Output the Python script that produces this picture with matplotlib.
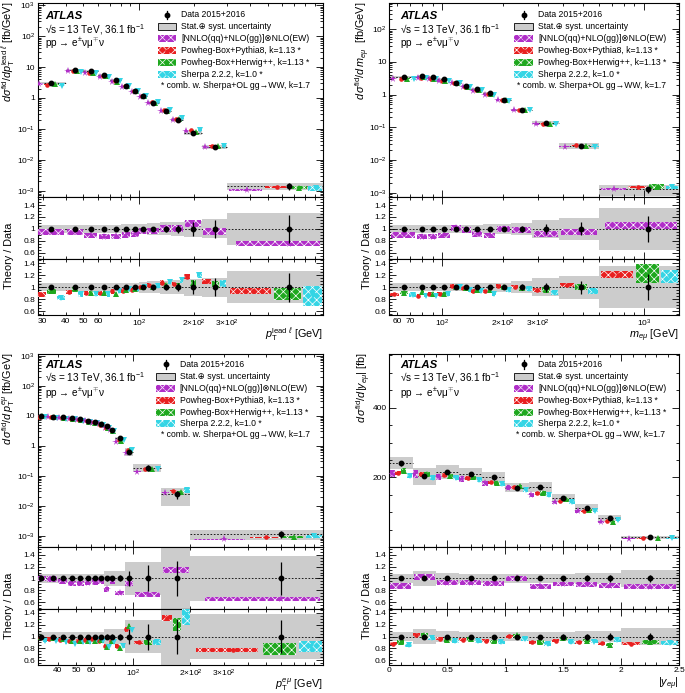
import numpy as np
import matplotlib
matplotlib.use("Agg")
import matplotlib.pyplot as plt
from matplotlib.patches import Rectangle
from matplotlib.ticker import FuncFormatter, NullFormatter, MultipleLocator, LogLocator, FixedLocator

plt.rcParams['font.family'] = ['Liberation Sans', 'DejaVu Sans']
plt.rcParams['mathtext.fontset'] = 'custom'
plt.rcParams['mathtext.rm'] = 'Liberation Sans'
plt.rcParams['mathtext.it'] = 'Liberation Sans:italic'
plt.rcParams['mathtext.bf'] = 'Liberation Sans:bold'
plt.rcParams['hatch.linewidth'] = 0.5

# ---------------- data: p_T lead lepton ----------------
edges1 = [27, 40, 50, 60, 70, 80, 90, 100, 110, 130, 150, 175, 220, 300, 1000]
data1 = [3.0, 7.9, 7.3, 5.5, 3.7, 2.5, 1.7, 1.13, 0.71, 0.37, 0.20, 0.076, 0.026, 1.4e-3]
band1 = [0.07, 0.07, 0.07, 0.07, 0.07, 0.08, 0.08, 0.09, 0.10, 0.11, 0.12, 0.14, 0.16, 0.27]
derr1 = [0.01, 0.01, 0.01, 0.01, 0.015, 0.02, 0.02, 0.03, 0.04, 0.05, 0.07, 0.12, 0.15, 0.24]
nnlo1 = [0.94, 0.945, 0.89, 0.87, 0.875, 0.90, 0.915, 0.96, 0.97, 1.01, 1.0, 1.09, 0.96, 0.75]
nnlo_u1 = [0.05, 0.05, 0.045, 0.045, 0.045, 0.045, 0.045, 0.05, 0.05, 0.055, 0.06, 0.065, 0.055, 0.045]
pyt1 = [0.88, 0.92, 0.90, 0.90, 0.93, 0.945, 0.955, 1.005, 1.04, 1.08, 1.055, 1.18, 1.10, 0.93]
pyt_u1 = [0.035, 0.035, 0.035, 0.035, 0.035, 0.035, 0.035, 0.035, 0.035, 0.035, 0.035, 0.04, 0.04, 0.05]
her1 = [0.93, 0.97, 0.905, 0.905, 0.89, 0.955, 0.97, 1.0, 1.0, 1.04, 1.03, 1.08, 1.05, 0.89]
her_u1 = [0.035, 0.035, 0.035, 0.035, 0.035, 0.035, 0.035, 0.035, 0.035, 0.04, 0.04, 0.05, 0.06, 0.10]
she1 = [0.82, 0.88, 0.89, 0.88, 0.94, 0.97, 0.97, 1.01, 1.03, 1.09, 1.12, 1.20, 1.06, 0.85]
she_u1 = [0.035, 0.035, 0.035, 0.035, 0.035, 0.035, 0.035, 0.035, 0.035, 0.04, 0.045, 0.05, 0.06, 0.17]

# ---------------- data: m_emu ----------------
edges2 = [55, 75, 85, 95, 110, 125, 140, 160, 185, 220, 280, 380, 600, 1500]
data2 = [3.4, 3.8, 3.4, 2.95, 2.2, 1.8, 1.46, 1.12, 0.67, 0.34, 0.136, 0.027, 1.25e-3]
band2 = [0.07, 0.07, 0.07, 0.07, 0.07, 0.07, 0.07, 0.08, 0.08, 0.10, 0.15, 0.19, 0.35]
derr2 = [0.01, 0.01, 0.01, 0.01, 0.01, 0.015, 0.02, 0.02, 0.03, 0.05, 0.08, 0.11, 0.22]
nnlo2 = [0.90, 0.87, 0.87, 0.89, 1.015, 0.98, 0.915, 0.89, 0.995, 0.98, 0.915, 0.945, 1.06]
nnlo_u2 = [0.045, 0.045, 0.045, 0.045, 0.05, 0.05, 0.045, 0.045, 0.05, 0.05, 0.05, 0.055, 0.06]
pyt2 = [0.88, 0.85, 0.885, 0.89, 1.03, 0.98, 0.94, 0.93, 1.03, 1.01, 0.955, 1.04, 1.21]
pyt_u2 = [0.03, 0.03, 0.03, 0.03, 0.03, 0.03, 0.03, 0.03, 0.03, 0.03, 0.03, 0.03, 0.06]
her2 = [0.91, 0.92, 0.89, 0.89, 1.0, 0.98, 0.95, 0.96, 1.0, 0.98, 0.96, 1.01, 1.23]
her_u2 = [0.03, 0.03, 0.03, 0.03, 0.03, 0.03, 0.03, 0.03, 0.03, 0.035, 0.04, 0.05, 0.16]
she2 = [0.87, 0.86, 0.86, 0.89, 1.0, 0.95, 0.93, 0.89, 0.95, 0.97, 0.91, 0.94, 1.18]
she_u2 = [0.03, 0.03, 0.03, 0.03, 0.03, 0.03, 0.03, 0.03, 0.03, 0.035, 0.04, 0.045, 0.11]

# ---------------- data: p_T emu ----------------
edges3 = [30, 35, 40, 45, 50, 55, 60, 65, 70, 75, 80, 90, 100, 140, 200, 1000]
data3 = [9.4, 9.2, 8.9, 8.5, 7.6, 6.9, 6.2, 5.4, 4.6, 3.4, 1.8, 0.63, 0.185, 0.024, 1.15e-3]
band3 = [0.08, 0.08, 0.08, 0.08, 0.08, 0.08, 0.08, 0.08, 0.12, 0.12, 0.12, 0.28, 0.28, 0.6, 0.38]
derr3 = [0.02, 0.02, 0.02, 0.02, 0.02, 0.02, 0.03, 0.03, 0.04, 0.04, 0.05, 0.12, 0.22, 0.3, 0.28]
nnlo3 = [1.0, 0.99, 0.95, 0.92, 0.915, 0.93, 0.94, 0.95, 0.815, 0.95, 0.755, 0.91, 0.73, 1.14, 0.65]
nnlo_u3 = [0.045, 0.045, 0.045, 0.045, 0.045, 0.045, 0.045, 0.045, 0.04, 0.04, 0.035, 0.045, 0.035, 0.055, 0.035]
pyt3 = [0.97, 0.955, 0.945, 0.93, 0.93, 0.945, 0.955, 0.93, 0.845, 0.93, 0.845, 1.12, 0.9, 1.32, 0.775]
pyt_u3 = [0.03, 0.03, 0.03, 0.03, 0.03, 0.03, 0.03, 0.03, 0.03, 0.03, 0.03, 0.035, 0.03, 0.05, 0.035]
her3 = [1.0, 0.97, 0.955, 0.93, 0.92, 0.92, 0.93, 0.945, 0.82, 0.92, 0.805, 1.17, 0.9, 1.2, 0.79]
her_u3 = [0.03, 0.03, 0.03, 0.03, 0.03, 0.03, 0.03, 0.03, 0.03, 0.03, 0.03, 0.04, 0.035, 0.11, 0.10]
she3 = [0.93, 0.93, 0.9, 0.88, 0.9, 0.91, 0.945, 0.92, 0.83, 0.91, 0.845, 1.11, 0.9, 1.36, 0.83]
she_u3 = [0.03, 0.03, 0.03, 0.03, 0.03, 0.03, 0.03, 0.03, 0.03, 0.03, 0.03, 0.04, 0.035, 0.16, 0.09]

# ---------------- data: |y_emu| ----------------
edges4 = [0, 0.2, 0.4, 0.6, 0.8, 1.0, 1.2, 1.4, 1.6, 1.8, 2.0, 2.5]
data4 = [241, 204, 216, 210, 200, 171, 172, 142, 114, 84, 29]
band4 = [0.07, 0.12, 0.09, 0.08, 0.08, 0.08, 0.08, 0.08, 0.10, 0.10, 0.14]
derr4 = [0.03, 0.03, 0.03, 0.03, 0.03, 0.03, 0.03, 0.04, 0.05, 0.06, 0.06]
nnlo4 = [0.875, 1.03, 0.93, 0.93, 0.915, 1.0, 0.87, 0.905, 0.9, 0.875, 0.86]
nnlo_u4 = [0.045, 0.05, 0.045, 0.045, 0.045, 0.045, 0.04, 0.04, 0.04, 0.04, 0.04]
pyt4 = [0.88, 1.03, 0.96, 0.945, 0.93, 1.005, 0.9, 0.93, 0.905, 0.89, 0.88]
pyt_u4 = [0.025, 0.025, 0.025, 0.025, 0.025, 0.025, 0.025, 0.025, 0.025, 0.025, 0.025]
her4 = [0.91, 1.03, 0.945, 0.955, 0.92, 1.02, 0.905, 0.97, 0.93, 0.865, 0.905]
her_u4 = [0.03, 0.03, 0.03, 0.03, 0.03, 0.03, 0.03, 0.03, 0.03, 0.03, 0.03]
she4 = [0.85, 0.97, 0.92, 0.92, 0.9, 0.955, 0.87, 0.91, 0.915, 0.94, 0.89]
she_u4 = [0.03, 0.03, 0.03, 0.03, 0.03, 0.03, 0.03, 0.03, 0.03, 0.03, 0.03]

leg_labels = ['Data 2015+2016', 'Stat.\u2295 syst. uncertainty', '[NNLO(qq)+NLO(gg)]\u2297NLO(EW)',
              'Powheg-Box+Pythia8, k=1.13 *', 'Powheg-Box+Herwig++, k=1.13 *', 'Sherpa 2.2.2, k=1.0 *',
              '* comb. w. Sherpa+OL gg\u2192WW, k=1.7']

PURPLE = '#b02ec8'
RED = '#e82020'
GREEN = '#1fa81f'
CYAN = '#35d5e5'
GREY = '#cccccc'
MS = {'*': 5.5, 'o': 3.3, '^': 4, 'v': 4}
LABEL_FS = 7.8

W, H = 685, 693
fig = plt.figure(figsize=(W / 100, H / 100), dpi=100)


def fx(px):
    return px / W


def fy(py):
    return 1 - py / H


def sub(lo, hi, k, n, frac=0.9):
    w = (hi - lo) / n
    c = lo + w * (k + 0.5)
    return c, c - w * frac / 2, c + w * frac / 2


def hbox(ax, x0, x1, y0, y1, col, z=3, tr=None):
    kw = {} if tr is None else {'transform': tr}
    ax.add_patch(Rectangle((x0, y0), x1 - x0, y1 - y0, facecolor=col, edgecolor='white',
                           hatch='xxxx', lw=0, zorder=z, **kw))


def style(ax):
    ax.tick_params(which='both', direction='in', top=True, right=True, labelsize=6, width=0.6, pad=2)
    ax.tick_params(which='major', length=5)
    ax.tick_params(which='minor', length=2.5)
    for s in ax.spines.values():
        s.set_linewidth(0.8)


def logfmt(v, pos):
    e = int(round(np.log10(v)))
    if e == 0:
        return '1'
    if e == 1:
        return '10'
    return r'$10^{%d}$' % e


def make_xfmt(labels):
    def f(v, pos):
        for key in labels:
            if abs(v / key - 1) < 1e-6:
                return labels[key]
        return ''
    return FuncFormatter(f)


def setx(ax, xlim, log, labels, show):
    if log:
        ax.set_xscale('log')
        ax.xaxis.set_major_locator(LogLocator(base=10, numticks=10))
        ax.xaxis.set_minor_locator(LogLocator(base=10, subs=np.arange(2, 10), numticks=20))
        fmt = make_xfmt(labels)
        if show:
            ax.xaxis.set_major_formatter(fmt)
            ax.xaxis.set_minor_formatter(fmt)
        else:
            ax.xaxis.set_major_formatter(NullFormatter())
            ax.xaxis.set_minor_formatter(NullFormatter())
    else:
        ax.xaxis.set_major_locator(MultipleLocator(0.5))
        ax.xaxis.set_minor_locator(MultipleLocator(0.1))
        if show:
            ax.xaxis.set_major_formatter(FuncFormatter(lambda v, p: '%g' % v))
        else:
            ax.xaxis.set_major_formatter(NullFormatter())
    ax.set_xlim(*xlim)


def draw_main(ax, edges, data, band, derr, models):
    for i in range(len(data)):
        lo, hi = edges[i], edges[i + 1]
        d = data[i]
        ax.add_patch(Rectangle((lo, d * (1 - band[i])), hi - lo, 2 * d * band[i], fc=GREY, ec='none', zorder=1))
        ax.plot([lo, hi], [d, d], color='k', lw=0.6, ls=(0, (2, 2)), zorder=2)
        for k, (vals, unc, col, m) in enumerate(models):
            t = vals[i] * d
            c, x0, x1 = sub(lo, hi, k, 4)
            hbox(ax, x0, x1, t * (1 - unc[i]), t * (1 + unc[i]), col)
            ax.plot(c, t, marker=m, color=col, ms=MS[m], mew=0, ls='none', zorder=4)
        ax.errorbar((lo + hi) / 2, d, yerr=d * derr[i], fmt='o', color='k', ms=3.2, lw=0.9,
                    capsize=0, zorder=5)


def draw_ratio(ax, edges, band, derr, models):
    for i in range(len(band)):
        lo, hi = edges[i], edges[i + 1]
        ax.add_patch(Rectangle((lo, 1 - band[i]), hi - lo, 2 * band[i], fc=GREY, ec='none', zorder=1))
        for k, (vals, unc, col, m) in enumerate(models):
            c, x0, x1 = sub(lo, hi, k, len(models))
            hbox(ax, x0, x1, vals[i] - unc[i], vals[i] + unc[i], col)
            ax.plot(c, vals[i], marker=m, color=col, ms=MS[m], mew=0, ls='none', zorder=4)
        ax.errorbar((lo + hi) / 2, 1, yerr=derr[i], fmt='o', color='k', ms=3.2, lw=0.9,
                    capsize=0, zorder=5)
    ax.axhline(1, color='k', lw=0.6, ls=(0, (2, 2)), zorder=2)


def legend(ax, bx, rows, starx):
    tr = ax.transAxes
    bw, bh = 0.066, 0.036
    tx = bx + bw + 0.016
    cx = bx + bw / 2
    # data
    ax.plot([cx], [rows[0]], marker='o', color='k', ms=3.2, transform=tr, zorder=6)
    ax.plot([cx, cx], [rows[0] - 0.022, rows[0] + 0.022], color='k', lw=0.9, transform=tr, zorder=6)
    # band
    ax.add_patch(Rectangle((bx, rows[1] - bh / 2), bw, bh, fc=GREY, ec='k', lw=0.6, transform=tr, zorder=6))
    for j, (col, m) in enumerate([(PURPLE, '*'), (RED, 'o'), (GREEN, '^'), (CYAN, 'v')]):
        y = rows[2 + j]
        hbox(ax, bx, bx + bw, y - bh / 2, y + bh / 2, col, z=6, tr=tr)
        ax.plot([cx], [y], marker=m, color=col, ms=MS[m], mew=0, transform=tr, zorder=7)
    for j in range(6):
        ax.text(tx, rows[j], leg_labels[j], transform=tr, fontsize=6.2, va='center', ha='left', zorder=7)
    ax.text(starx, rows[6], leg_labels[6], transform=tr, fontsize=6.2, va='center', ha='left', zorder=7)


def atlas(ax, x, ys):
    tr = ax.transAxes
    ax.text(x, ys[0], 'ATLAS', transform=tr, fontsize=8.2, fontweight='bold', fontstyle='italic', va='center')
    ax.text(x, ys[1], '\u221As = 13 TeV, 36.1 fb$^{-1}$', transform=tr, fontsize=7.2, va='center')
    ax.text(x, ys[2], 'pp \u2192 e$^{\\pm}$\u03bd\u03bc$^{\\mp}$\u03bd', transform=tr, fontsize=7.2, va='center')


panels = [
    dict(edges=edges1, data=data1, band=band1, derr=derr1,
         m=[(nnlo1, nnlo_u1), (pyt1, pyt_u1), (her1, her_u1), (she1, she_u1)],
         left=37.7, right=323, top=2.7, b0=197.3, b1=259.3, b2=315.3,
         xlim=(28.2, 1000), log=True, ylim=(6.1e-4, 1.21e3), r1=(0.49, 1.53), r2=(0.53, 1.47),
         xl={30: '30', 40: '40', 50: '50', 60: '60', 100: '$10^{2}$', 200: r'$2{\times}10^{2}$',
             300: r'$3{\times}10^{2}$'},
         legx=0.42, starx=0.432, legy=[0.937, 0.877, 0.814, 0.752, 0.692, 0.632, 0.572],
         ax_x=0.026, ax_y=[0.932, 0.86, 0.791],
         ylab=r'$d\sigma^{\mathrm{fid}}/dp_{\mathrm{T}}^{\mathrm{lead}\ \ell}$ [fb/GeV]', ylx=9.0, yly=2,
         xlab=r'$p_{\mathrm{T}}^{\mathrm{lead}\ \ell}$ [GeV]', xly=335.7),
    dict(edges=edges2, data=data2, band=band2, derr=derr2,
         m=[(nnlo2, nnlo_u2), (pyt2, pyt_u2), (her2, her_u2), (she2, she_u2)],
         left=389.3, right=679.3, top=2.7, b0=197.3, b1=259.3, b2=315.3,
         xlim=(55, 1500), log=True, ylim=(7.2e-4, 650), r1=(0.49, 1.53), r2=(0.53, 1.47),
         xl={60: '60', 70: '70', 100: '$10^{2}$', 200: r'$2{\times}10^{2}$', 300: r'$3{\times}10^{2}$',
             1000: '$10^{3}$'},
         legx=0.431, starx=0.439, legy=[0.937, 0.877, 0.814, 0.752, 0.692, 0.632, 0.572],
         ax_x=0.038, ax_y=[0.932, 0.86, 0.791],
         ylab=r'$d\,\sigma^{\mathrm{fid}}/d\,m_{e\mu}$  [fb/GeV]', ylx=362.5, yly=2,
         xlab=r'$m_{e\mu}$ [GeV]', xly=335.7),
    dict(edges=edges3, data=data3, band=band3, derr=derr3,
         m=[(nnlo3, nnlo_u3), (pyt3, pyt_u3), (her3, her_u3), (she3, she_u3)],
         left=37.7, right=323, top=354.3, b0=547.3, b1=609, b2=664.7,
         xlim=(31.3, 1000), log=True, ylim=(4.1e-4, 1.11e3), r1=(0.485, 1.525), r2=(0.525, 1.465),
         xl={40: '40', 50: '50', 60: '60', 100: '$10^{2}$', 200: r'$2{\times}10^{2}$',
             300: r'$3{\times}10^{2}$'},
         legx=0.416, starx=0.431, legy=[0.948, 0.884, 0.824, 0.762, 0.700, 0.640, 0.583],
         ax_x=0.026, ax_y=[0.945, 0.879, 0.798],
         ylab=r'$d\,\sigma^{\mathrm{fid}}/d\,p_{\mathrm{T}}^{e\mu}$ [fb/GeV]', ylx=9.0, yly=352,
         xlab=r'$p_{\mathrm{T}}^{e\mu}$ [GeV]', xly=685),
    dict(edges=edges4, data=data4, band=band4, derr=derr4,
         m=[(nnlo4, nnlo_u4), (pyt4, pyt_u4), (her4, her_u4), (she4, she_u4)],
         left=389.3, right=679.3, top=354.3, b0=547.3, b1=609, b2=664.7,
         xlim=(0, 2.5), log=False, ylim=(0, 553), r1=(0.485, 1.525), r2=(0.525, 1.465),
         xl=None,
         legx=0.431, starx=0.437, legy=[0.948, 0.884, 0.824, 0.762, 0.700, 0.640, 0.583],
         ax_x=0.037, ax_y=[0.945, 0.879, 0.798],
         ylab=r'$d\,\sigma^{\mathrm{fid}}/d|y_{e\mu}|$ [fb]', ylx=363.5, yly=352,
         xlab=r'$|y_{e\mu}|$', xly=684),
]

cols = [PURPLE, RED, GREEN, CYAN]
mks = ['*', 'o', '^', 'v']

for p in panels:
    l, w = fx(p['left']), (p['right'] - p['left']) / W
    axm = fig.add_axes([l, fy(p['b0']), w, (p['b0'] - p['top']) / H])
    ax1 = fig.add_axes([l, fy(p['b1']), w, (p['b1'] - p['b0']) / H])
    ax2 = fig.add_axes([l, fy(p['b2']), w, (p['b2'] - p['b1']) / H])
    models = [(v, u, c, mk) for (v, u), c, mk in zip(p['m'], cols, mks)]

    draw_main(axm, p['edges'], p['data'], p['band'], p['derr'], models)
    draw_ratio(ax1, p['edges'], p['band'], p['derr'], models[:1])
    draw_ratio(ax2, p['edges'], p['band'], p['derr'], models[1:])

    for ax, show in [(axm, False), (ax1, False), (ax2, True)]:
        style(ax)
        setx(ax, p['xlim'], p['log'], p['xl'], show)

    if p['log']:
        axm.set_yscale('log')
        axm.yaxis.set_major_locator(LogLocator(base=10, numticks=15))
        axm.yaxis.set_minor_locator(LogLocator(base=10, subs=np.arange(2, 10), numticks=30))
        axm.yaxis.set_major_formatter(FuncFormatter(logfmt))
        axm.yaxis.set_minor_formatter(NullFormatter())
    else:
        axm.yaxis.set_major_locator(MultipleLocator(200))
        axm.yaxis.set_minor_locator(MultipleLocator(50))
        axm.yaxis.set_major_formatter(FuncFormatter(lambda v, q: '%d' % v if v > 0 else ''))
    axm.set_ylim(*p['ylim'])

    for ax, r in [(ax1, p['r1']), (ax2, p['r2'])]:
        ax.set_ylim(*r)
        ax.yaxis.set_major_locator(FixedLocator([0.6, 0.8, 1.0, 1.2, 1.4]))
        ax.yaxis.set_minor_locator(MultipleLocator(0.05))
        ax.yaxis.set_major_formatter(FuncFormatter(lambda v, q: '%g' % v))

    legend(axm, p['legx'], p['legy'], p['starx'])
    atlas(axm, p['ax_x'], p['ax_y'])

    fig.text(fx(p['ylx']), fy(p['yly']), p['ylab'], rotation=90, ha='center', va='top', fontsize=LABEL_FS)
    fig.text(fx(p['ylx'] + (4 if p['left'] > 300 else 0)), fy((p['b0'] + p['b2']) / 2), 'Theory / Data',
             rotation=90, ha='center', va='center', fontsize=LABEL_FS)
    fig.text(fx(p['right']), fy(p['xly']), p['xlab'], ha='right', va='center', fontsize=LABEL_FS)

fig.savefig('out.png', dpi=100)
